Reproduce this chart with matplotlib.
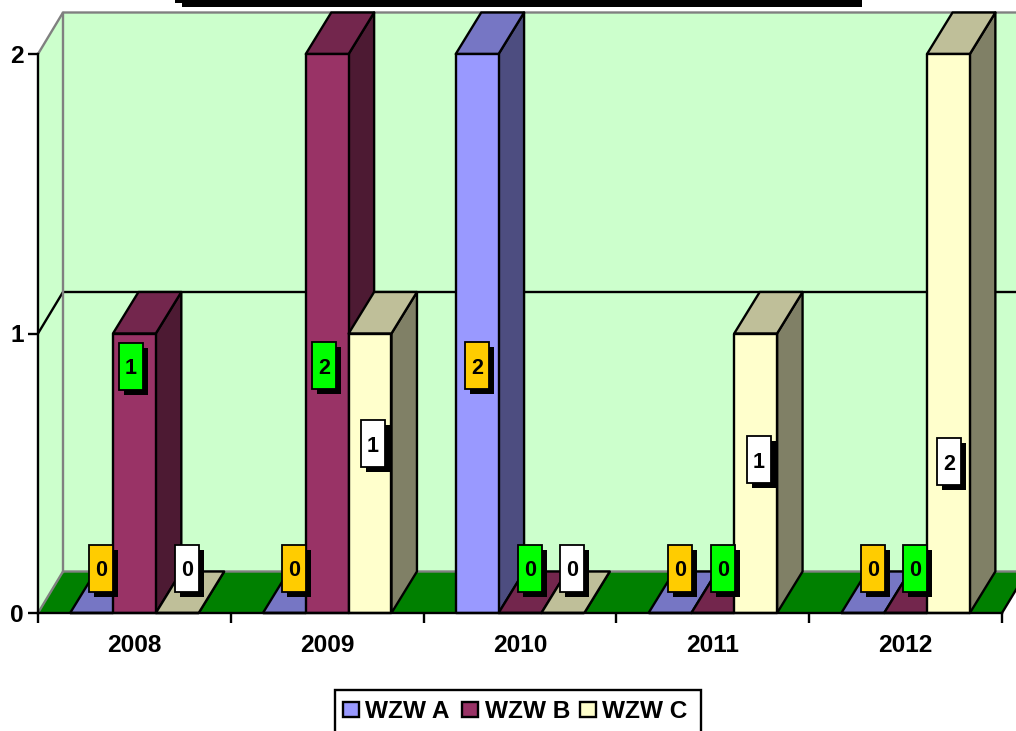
#!/usr/bin/env python3
"""Pseudo-3D clustered columns, WZW A/B/C per year."""

import matplotlib
matplotlib.use("Agg")
import matplotlib.pyplot as plt
from matplotlib.patches import Polygon, Rectangle

plt.rcParams['font.family'] = ['Liberation Sans', 'DejaVu Sans']
plt.rcParams['font.weight'] = 'bold'

# ============== DATA ==============
years = ['2008', '2009', '2010', '2011', '2012']
series_names = ['WZW A', 'WZW B', 'WZW C']
wzw_a = [0, 0, 2, 0, 0]
wzw_b = [1, 2, 0, 0, 0]
wzw_c = [0, 1, 0, 1, 2]
y_ticks = [0, 1, 2]

# ============== LAYOUT (reference pixels) ==============
W, H = 1016, 731
X0_PX, X1_PX = 38, 1002      # front edge of the floor
Y0_PX, Y2_PX = 613, 54       # value 0 and value 2 on the front plane
WALL_DX_PX, WALL_DY_PX = 25, 41.5
BAR_DX_PX, BAR_DY_PX = 25.5, 41.5
BAR_W = 1 / 4.5              # in category units
BAR_OFFSET = 0.75 * BAR_W

PX_X = (X1_PX - X0_PX) / len(years)
PX_Y = (Y0_PX - Y2_PX) / 2
LW = 1.7

front_colors = ['#9999FF', '#993366', '#FFFFCC']
top_colors = ['#7676C4', '#73264D', '#BFBF99']
side_colors = ['#4D4D80', '#4D1A33', '#808066']
label_colors = ['#FFCC00', '#00FF00', '#FFFFFF']

# data label boxes, left/top pixel, one row per series
LABEL_W_PX, LABEL_H_PX, SHADOW_PX = 24, 47, 5
label_left = [[89, 282, 465, 668, 861],
              [119, 312, 518, 711, 903],
              [175, 361, 560, 747, 937]]
label_top = [[545, 545, 342, 545, 545],
             [343, 342, 545, 545, 545],
             [545, 420, 545, 436, 438]]


def to_data(px, py):
    """Reference pixel -> data coordinates of the main axes."""
    return (px - X0_PX) / PX_X, (Y0_PX - py) / PX_Y


def fig_xy(px, py):
    return px / W, 1 - py / H


def draw_walls(ax):
    dx, dy = WALL_DX_PX / PX_X, WALL_DY_PX / PX_Y
    n = len(years)
    # back and side wall
    ax.add_patch(Rectangle((dx, dy), n, 2, fc='#CCFFCC', ec='none', zorder=1, clip_on=False))
    ax.add_patch(Polygon([(0, 0), (dx, dy), (dx, 2 + dy), (0, 2)], fc='#CCFFCC', ec='none',
                         zorder=1, clip_on=False))
    # floor
    ax.add_patch(Polygon([(0, 0), (n, 0), (n + dx, dy), (dx, dy)], fc='#008000', ec='none',
                         zorder=1.1, clip_on=False))
    # gridline at 1 runs along side wall and back wall
    ax.plot([0, dx, n + dx], [1, 1 + dy, 1 + dy], color='black', lw=LW, zorder=1.2, clip_on=False)
    # wall outline is grey
    for xs, ys in [([dx, dx], [dy, 2 + dy]),
                   ([0, dx, n + dx], [2, 2 + dy, 2 + dy]),
                   ([0, dx, n + dx], [0, dy, dy])]:
        ax.plot(xs, ys, color='#808080', lw=LW, zorder=1.3, clip_on=False)
    ax.plot([n, n + dx], [0, dy], color='black', lw=LW, zorder=1.3, clip_on=False)


def draw_bars(ax, all_values):
    dx, dy = BAR_DX_PX / PX_X, BAR_DY_PX / PX_Y
    z = 3
    for c in range(len(years)):
        for s, values in enumerate(all_values):
            left = c + BAR_OFFSET + s * BAR_W
            right = left + BAR_W
            v = values[c]
            style = dict(ec='black', lw=LW, joinstyle='round', clip_on=False, zorder=z)
            ax.add_patch(Polygon([(right, 0), (right + dx, dy), (right + dx, v + dy), (right, v)],
                                 fc=side_colors[s], **style))
            ax.add_patch(Polygon([(left, v), (right, v), (right + dx, v + dy), (left + dx, v + dy)],
                                 fc=top_colors[s], **style))
            ax.add_patch(Rectangle((left, 0), BAR_W, v, fc=front_colors[s], **style))
            z += 1
    return z


def draw_labels(ax, all_values, z):
    w, h = LABEL_W_PX / PX_X, LABEL_H_PX / PX_Y
    sx, sy = SHADOW_PX / PX_X, SHADOW_PX / PX_Y
    for s, values in enumerate(all_values):
        for c, v in enumerate(values):
            x, y = to_data(label_left[s][c], label_top[s][c] + LABEL_H_PX)
            ax.add_patch(Rectangle((x + sx, y - sy), w, h, fc='black', ec='none', clip_on=False, zorder=z))
            ax.add_patch(Rectangle((x, y), w, h, fc=label_colors[s], ec='black', lw=1.3,
                                   clip_on=False, zorder=z + 1))
            ax.text(x + w / 2, y + h / 2, str(v), ha='center', va='center_baseline', fontsize=15.5,
                    fontweight='bold', color='black', zorder=z + 2)


def draw_legend(fig):
    # legend frame runs off the bottom of the picture, like the title box at the top
    x, y = fig_xy(335, 731 + 10)
    fig.add_artist(Rectangle((x, y), 366 / W, (731 + 10 - 690) / H, fc='white', ec='black', lw=LW,
                             transform=fig.transFigure))
    swatch_x = [343, 462, 580]
    text_x = [365, 485, 602]
    for s, name in enumerate(series_names):
        x, y = fig_xy(swatch_x[s], 717)
        fig.add_artist(Rectangle((x, y), 16 / W, 15 / H, fc=front_colors[s], ec='black', lw=LW,
                                 transform=fig.transFigure))
        x, y = fig_xy(text_x[s], 709.5)
        fig.text(x, y, name, ha='left', va='center_baseline', fontsize=17.6, fontweight='bold')


def main():
    all_values = [wzw_a, wzw_b, wzw_c]
    fig = plt.figure(figsize=(W / 100, H / 100), dpi=100, facecolor='white')
    ax = fig.add_axes([X0_PX / W, 1 - Y0_PX / H, (X1_PX - X0_PX) / W, (Y0_PX - Y2_PX) / H])
    ax.set_xlim(0, len(years))
    ax.set_ylim(0, 2)
    ax.patch.set_visible(False)

    draw_walls(ax)
    z = draw_bars(ax, all_values)
    draw_labels(ax, all_values, z)

    for side in ['top', 'right']:
        ax.spines[side].set_visible(False)
    for side in ['left', 'bottom']:
        ax.spines[side].set_linewidth(LW)
        ax.spines[side].set_zorder(z)

    ax.set_yticks(y_ticks)
    ax.set_yticklabels([str(t) for t in y_ticks], fontsize=17.6, fontweight='bold')
    ax.set_xticks(range(len(years) + 1))
    ax.set_xticklabels([])
    ax.set_xticks([i + 0.5 for i in range(len(years))], minor=True)
    ax.set_xticklabels(years, minor=True, fontsize=17.6, fontweight='bold')
    ax.tick_params(axis='both', which='major', length=7, width=LW, pad=3)
    ax.tick_params(axis='x', which='minor', length=0, pad=15)

    # bottom of the cut-off title box
    x, y = fig_xy(182, 7)
    fig.add_artist(Rectangle((x, y), 680 / W, 7 / H, fc='black', ec='none', transform=fig.transFigure))
    x, y = fig_xy(175, 2.5)
    fig.add_artist(Rectangle((x, y), 7 / W, 2.5 / H, fc='black', ec='none', transform=fig.transFigure))

    draw_legend(fig)
    fig.savefig('out.png', dpi=100)
    plt.close(fig)


if __name__ == "__main__":
    main()
